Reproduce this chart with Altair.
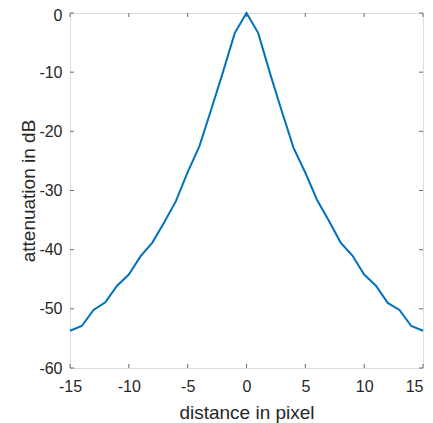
import altair as alt
import pandas as pd

# Data
distance = list(range(-15, 16))
attenuation = [-53.7, -52.9, -50.2, -48.9, -46.1, -44.2, -41.1, -38.8, -35.4, -31.8,
               -26.9, -22.5, -16.3, -10.0, -3.4, 0.0, -3.4, -10.2, -16.6, -22.8,
               -27.0, -31.6, -35.1, -38.8, -41.0, -44.2, -46.1, -49.0, -50.2, -52.9, -53.7]
x_ticks = [-15, -10, -5, 0, 5, 10, 15]
y_ticks = [0, -10, -20, -30, -40, -50, -60]

W, H = 353, 355
TICK = 4
FONT = "Liberation Sans"
TEXT = "#262626"
BOX = "#6e6e6e"

df = pd.DataFrame({"d": distance, "a": attenuation})
xt = pd.DataFrame({"t": x_ticks})
yt = pd.DataFrame({"t": y_ticks})

xscale = alt.Scale(domain=[-15, 15], nice=False, zero=False)
yscale = alt.Scale(domain=[-60, 0], nice=False, zero=False)

line = alt.Chart(df).mark_line(color="#0072BD", strokeWidth=2).encode(
    x=alt.X("d:Q", scale=xscale,
            axis=alt.Axis(values=x_ticks, title="distance in pixel", tickSize=0,
                          labelPadding=10, titlePadding=9, grid=False, domain=False,
                          labelFontSize=16, titleFontSize=19, labelColor=TEXT,
                          titleColor=TEXT, titleFontWeight="normal", labelFont=FONT,
                          titleFont=FONT, labelFlush=False, labelExpr="datum.value + ''",
                          labelAlign={"condition": {"test": "datum.value == 15", "value": "right"},
                                      "value": "center"})),
    y=alt.Y("a:Q", scale=yscale,
            axis=alt.Axis(values=y_ticks, title="attenuation in dB", tickSize=0,
                          labelPadding=8, titlePadding=0, grid=False, domain=False,
                          labelFontSize=16, titleFontSize=19, labelColor=TEXT,
                          titleColor=TEXT, titleFontWeight="normal", labelFont=FONT,
                          titleFont=FONT, labelFlush=False, labelExpr="datum.value + ''",
                          labelOffset={"condition": {"test": "datum.value == 0", "value": 2},
                                       "value": 0})),
)

rule_style = dict(color=BOX, strokeWidth=1)
bottom_ticks = alt.Chart(xt).mark_rule(**rule_style).encode(
    x=alt.X("t:Q", scale=xscale), y=alt.value(H), y2=alt.value(H - TICK))
top_ticks = alt.Chart(xt).mark_rule(**rule_style).encode(
    x=alt.X("t:Q", scale=xscale), y=alt.value(0), y2=alt.value(TICK))
left_ticks = alt.Chart(yt).mark_rule(**rule_style).encode(
    y=alt.Y("t:Q", scale=yscale), x=alt.value(0), x2=alt.value(TICK))
right_ticks = alt.Chart(yt).mark_rule(**rule_style).encode(
    y=alt.Y("t:Q", scale=yscale), x=alt.value(W), x2=alt.value(W - TICK))

chart = alt.layer(bottom_ticks, top_ticks, left_ticks, right_ticks, line).properties(
    width=W, height=H,
    autosize=alt.AutoSizeParams(type="none"),
    padding={"left": 62, "top": 5, "right": 2, "bottom": 57},
).configure_view(stroke=BOX, strokeWidth=1).configure(background="white")

chart.save("out.html", embed_options={"renderer": "svg", "actions": False})
